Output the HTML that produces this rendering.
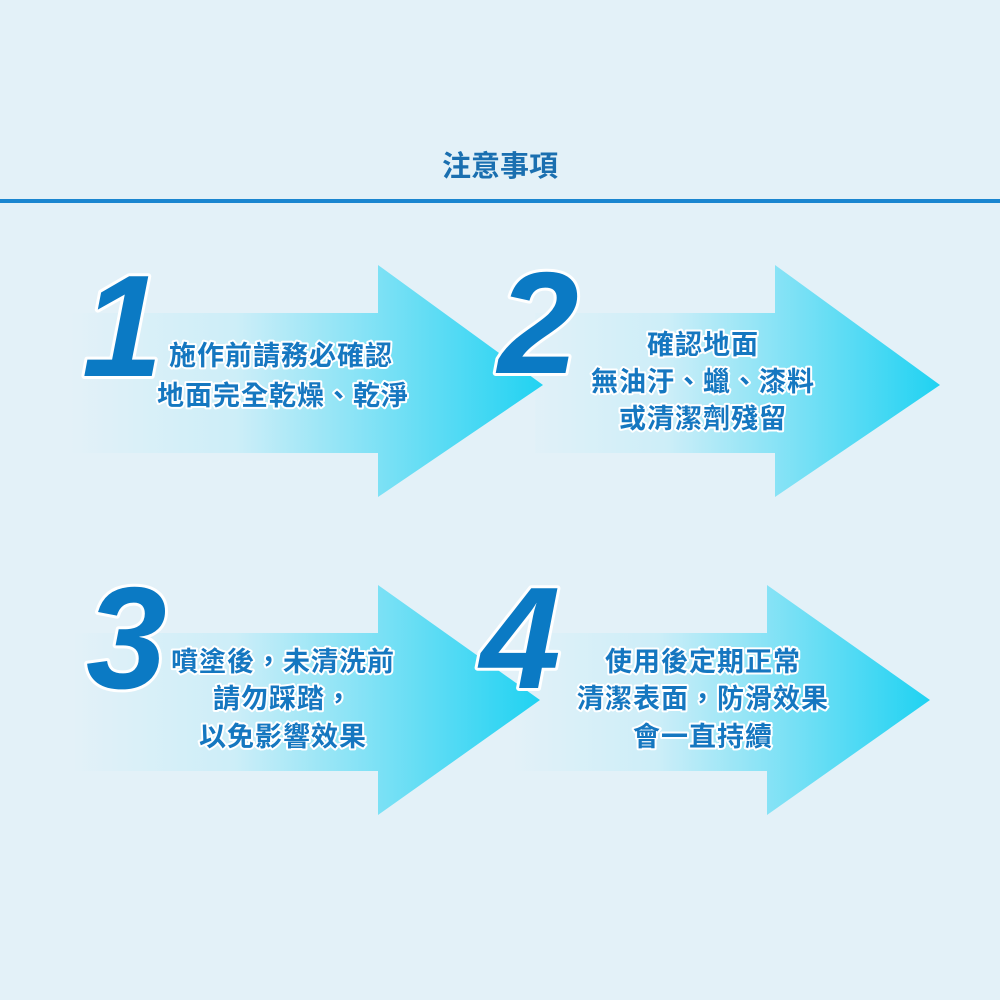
<!DOCTYPE html>
<html><head><meta charset="utf-8"><style>
body{margin:0;width:1000px;height:1000px;background:#e3f1f8;overflow:hidden;font-family:"Liberation Sans","Noto Sans CJK TC",sans-serif}
svg{position:absolute;left:0;top:0}
</style></head><body>
<svg width="1000" height="1000" viewBox="0 0 1000 1000">
<defs>
<linearGradient id="g1" gradientUnits="userSpaceOnUse" x1="70" y1="0" x2="545" y2="0"><stop offset="0" stop-color="#e3f1f8"/><stop offset="0.35" stop-color="#cdeef8"/><stop offset="1" stop-color="#20d2f2"/></linearGradient>
<linearGradient id="g2" gradientUnits="userSpaceOnUse" x1="520" y1="0" x2="940" y2="0"><stop offset="0" stop-color="#e3f1f8"/><stop offset="0.35" stop-color="#cdeef8"/><stop offset="1" stop-color="#20d2f2"/></linearGradient>
<linearGradient id="g3" gradientUnits="userSpaceOnUse" x1="70" y1="0" x2="540" y2="0"><stop offset="0" stop-color="#e3f1f8"/><stop offset="0.35" stop-color="#cdeef8"/><stop offset="1" stop-color="#20d2f2"/></linearGradient>
<linearGradient id="g4" gradientUnits="userSpaceOnUse" x1="510" y1="0" x2="930" y2="0"><stop offset="0" stop-color="#e3f1f8"/><stop offset="0.35" stop-color="#cdeef8"/><stop offset="1" stop-color="#20d2f2"/></linearGradient>
</defs>
<text x="500" y="176" text-anchor="middle" font-size="29" font-weight="bold" fill="#1a6fb0">注意事項</text>
<rect x="0" y="199" width="1000" height="4" fill="#1a86d0"/>
<polygon points="535,313 775,313 775,265 940,385 775,497 775,453 535,453" fill="url(#g2)"/>
<polygon points="70,313 378,313 378,265 543,385 378,497 378,453 70,453" fill="url(#g1)"/>
<polygon points="515,633 767,633 767,585 930,700 767,815 767,771 515,771" fill="url(#g4)"/>
<polygon points="75,633 378,633 378,585 540,700 378,815 378,771 75,771" fill="url(#g3)"/>
<g font-family="Liberation Sans,sans-serif" font-style="italic" font-weight="bold" font-size="145" fill="#0b7ac4" stroke="#fff" stroke-width="6" paint-order="stroke" stroke-linejoin="round">
<text x="82" y="376">1</text>
<text x="498" y="373">2</text>
<text x="86" y="688">3</text>
<text x="480" y="688">4</text>
</g>
<g font-size="27" font-weight="bold" fill="#1577c0" stroke="#fff" stroke-width="4" paint-order="stroke" text-anchor="middle" stroke-linejoin="round" letter-spacing="1">
<text x="281" y="365">施作前請務必確認</text>
<text x="283" y="405">地面完全乾燥、乾淨</text>
<text x="703" y="354">確認地面</text>
<text x="703" y="391">無油汙、蠟、漆料</text>
<text x="703" y="428">或清潔劑殘留</text>
<text x="283" y="671">噴塗後，未清洗前</text>
<text x="283" y="708">請勿踩踏，</text>
<text x="283" y="746">以免影響效果</text>
<text x="703" y="671">使用後定期正常</text>
<text x="703" y="708">清潔表面，防滑效果</text>
<text x="703" y="746">會一直持續</text>
</g>
</svg>
</body></html>
